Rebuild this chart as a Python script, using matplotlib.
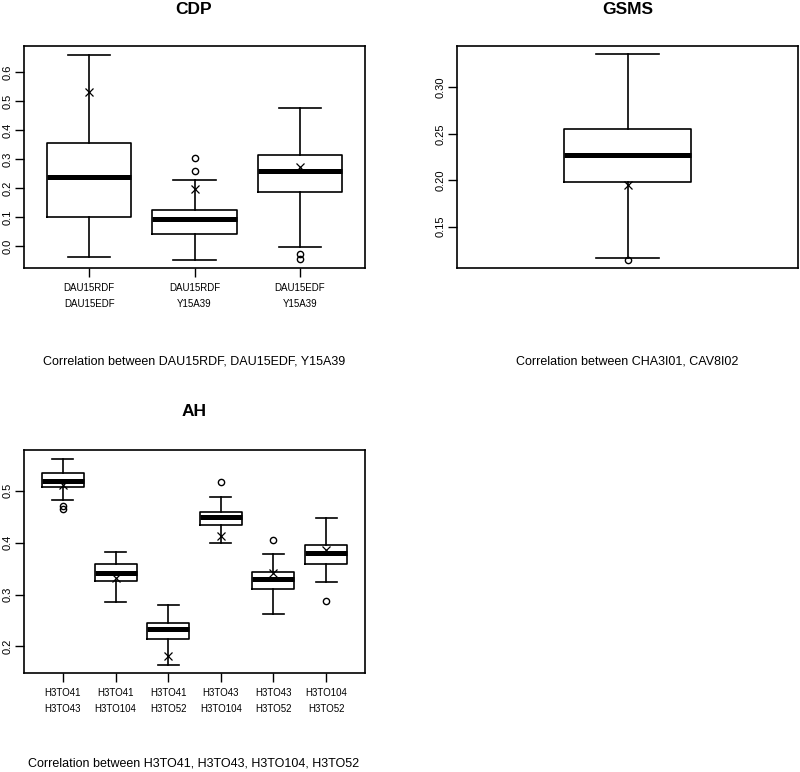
import matplotlib
matplotlib.use("Agg")
import matplotlib.pyplot as plt
from matplotlib import font_manager

# pick a narrow sans font if one is installed, otherwise Liberation Sans
narrow_file = None
for f in font_manager.findSystemFonts():
    b = f.split('/')[-1].lower()
    if b.startswith('liberationsansnarrow-regular'):
        narrow_file = f
        break

if narrow_file:
    font_manager.fontManager.addfont(narrow_file)
    fam = font_manager.FontProperties(fname=narrow_file).get_name()
    K = 1 / 0.82
else:
    fam = 'Liberation Sans'
    K = 1.0
plt.rcParams['font.family'] = [fam, 'DejaVu Sans']

# ---- data: CDP ----
cdp_labels = ["DAU15RDF\nDAU15EDF", "DAU15RDF\nY15A39", "DAU15EDF\nY15A39"]
cdp_whislo = [-0.037, -0.050, -0.005]
cdp_q1 = [0.100, 0.042, 0.186]
cdp_med = [0.239, 0.094, 0.257]
cdp_q3 = [0.356, 0.125, 0.315]
cdp_whishi = [0.658, 0.229, 0.477]
cdp_fliers = [[], [0.302, 0.258], [-0.028, -0.045]]
cdp_marks = [0.530, 0.197, 0.271]
cdp_yticks = [0.0, 0.1, 0.2, 0.3, 0.4, 0.5, 0.6]

# ---- data: GSMS ----
gsms_whislo = [0.1165]
gsms_q1 = [0.1976]
gsms_med = [0.2275]
gsms_q3 = [0.255]
gsms_whishi = [0.336]
gsms_fliers = [[0.1136]]
gsms_marks = [0.195]
gsms_yticks = [0.15, 0.20, 0.25, 0.30]

# ---- data: AH ----
ah_labels = ["H3TO41\nH3TO43", "H3TO41\nH3TO104", "H3TO41\nH3TO52",
             "H3TO43\nH3TO104", "H3TO43\nH3TO52", "H3TO104\nH3TO52"]
ah_whislo = [0.482, 0.2865, 0.1635, 0.3987, 0.262, 0.324]
ah_q1 = [0.5077, 0.326, 0.214, 0.4333, 0.310, 0.359]
ah_med = [0.519, 0.342, 0.2346, 0.4487, 0.3295, 0.380]
ah_q3 = [0.5333, 0.358, 0.246, 0.459, 0.344, 0.396]
ah_whishi = [0.5615, 0.3827, 0.280, 0.487, 0.3788, 0.447]
ah_fliers = [[0.4705, 0.464], [], [], [0.5167], [0.4045], [0.288]]
ah_marks = [0.510, 0.331, 0.182, 0.412, 0.341, 0.386]
ah_yticks = [0.2, 0.3, 0.4, 0.5]

W, H = 800, 772
fig = plt.figure(figsize=(W / 100, H / 100), dpi=100)

XTICK_FS = 7.0 * K
YTICK_FS = 8.0 * K
SUB_FS = 9.0 * K
TITLE_FS = 12.5


def ax_at(x0, y0, x1, y1):
    return fig.add_axes([x0 / W, 1 - y1 / H, (x1 - x0) / W, (y1 - y0) / H])


def draw(ax, whislo, q1, med, q3, whishi, fliers, marks, labels, yticks,
         ylim, fmt, width, xlab=True):
    n = len(med)
    pos = list(range(1, n + 1))
    stats = [dict(whislo=a, q1=b, med=c, q3=d, whishi=e, fliers=f)
             for a, b, c, d, e, f in zip(whislo, q1, med, q3, whishi, fliers)]
    ax.bxp(stats, positions=pos, widths=width, capwidths=width / 2,
           showfliers=True, patch_artist=False,
           boxprops=dict(color='black', linewidth=1.2),
           whiskerprops=dict(color='black', linewidth=1.2),
           capprops=dict(color='black', linewidth=1.2),
           medianprops=dict(color='black', linewidth=3.6, solid_capstyle='butt'),
           flierprops=dict(marker='o', markerfacecolor='none', markeredgecolor='black',
                           markersize=4.5, markeredgewidth=1.0))
    ax.plot(pos, marks, linestyle='none', marker='x', color='black',
            markersize=5.5, markeredgewidth=0.9)
    ext = n * 0.04
    ax.set_xlim(0.5 - ext, n + 0.5 + ext)
    ax.set_ylim(*ylim)
    ax.set_yticks(yticks)
    ax.set_yticklabels([fmt.format(v) for v in yticks], rotation=90, va='center',
                       fontsize=YTICK_FS)
    if xlab:
        ax.set_xticks(pos)
        ax.set_xticklabels(labels, fontsize=XTICK_FS, linespacing=1.75)
    else:
        ax.set_xticks([])
    ax.tick_params(direction='out', length=6.5, width=1.0, pad=4)
    ax.tick_params(axis='y', pad=2)
    for s in ax.spines.values():
        s.set_linewidth(1.2)


ax1 = ax_at(24, 46, 365, 268)
draw(ax1, cdp_whislo, cdp_q1, cdp_med, cdp_q3, cdp_whishi, cdp_fliers, cdp_marks,
     cdp_labels, cdp_yticks, (-0.076, 0.690), "{:.1f}", 0.8)
ax2 = ax_at(457, 46, 798, 268)
draw(ax2, gsms_whislo, gsms_q1, gsms_med, gsms_q3, gsms_whishi, gsms_fliers, gsms_marks,
     [], gsms_yticks, (0.1053, 0.3447), "{:.2f}", 0.4, xlab=False)
ax3 = ax_at(24, 450, 365, 673)
draw(ax3, ah_whislo, ah_q1, ah_med, ah_q3, ah_whishi, ah_fliers, ah_marks,
     ah_labels, ah_yticks, (0.149, 0.578), "{:.1f}", 0.8)


def ftext(x, y, s, **kw):
    fig.text(x / W, 1 - y / H, s, ha='center', va='center', **kw)


ftext(194, 9, "CDP", fontsize=TITLE_FS, fontweight='bold')
ftext(628, 9, "GSMS", fontsize=TITLE_FS, fontweight='bold')
ftext(194, 412, "AH", fontsize=TITLE_FS, fontweight='bold')
ftext(194, 362, "Correlation between DAU15RDF, DAU15EDF, Y15A39", fontsize=SUB_FS)
ftext(627, 362, "Correlation between CHA3I01, CAV8I02", fontsize=SUB_FS)
ftext(194, 764, "Correlation between H3TO41, H3TO43, H3TO104, H3TO52", fontsize=SUB_FS)

fig.savefig("out.png", dpi=100)
